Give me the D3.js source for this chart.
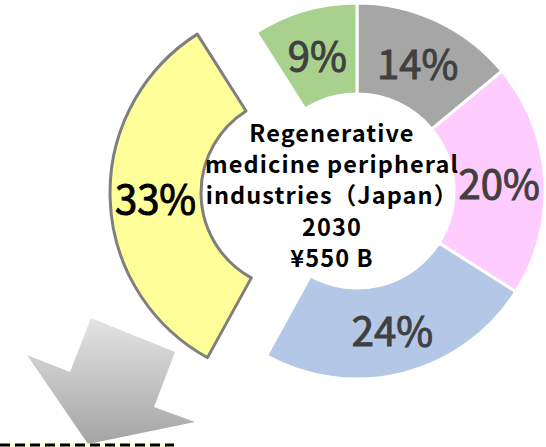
<!DOCTYPE html>
<html><head><meta charset="utf-8">
<script src="https://cdn.jsdelivr.net/npm/d3@7"></script>
<style>html,body{margin:0;padding:0;background:#fff;}svg{display:block;}</style>
</head><body>
<svg id="c" width="546" height="447"></svg>
<script>
const categories = ["Gray", "Pink", "Blue", "Yellow", "Green"];
const values = [14, 20, 24, 33, 9];
const labels = ["14%", "20%", "24%", "33%", "9%"];
const colors = ["#a6a6a6", "#ffccff", "#b4c7e7", "#ffff99", "#a9d18e"];
const labelColors = ["#404040", "#404040", "#404040", "#000000", "#404040"];
const exploded = [false, false, false, true, false];
const centerLines = ["Regenerative", "medicine peripheral", "industries（Japan）", "2030", "¥550 B"];

const svg = d3.select("#c");
const cx = 357, cy = 191, R = 188, r0 = 97, explode = 59;
const font = "'Noto Sans CJK JP', 'Noto Sans', sans-serif";

// arrow decoration with gradient
const defs = svg.append("defs");
const grad = defs.append("linearGradient").attr("id", "ag").attr("x1", 0).attr("y1", 0).attr("x2", 0).attr("y2", 1);
grad.append("stop").attr("offset", "0%").attr("stop-color", "#e4e4e4");
grad.append("stop").attr("offset", "100%").attr("stop-color", "#a4a4a4");
const arrowPts = [[91,318],[175,352],[154,407],[195,422],[88,444],[27,355],[70,372]];
svg.append("polygon").attr("points", arrowPts.map(p => p.join(",")).join(" ")).attr("fill", "url(#ag)");

// dashed line
svg.append("line").attr("x1", 0).attr("x2", 174).attr("y1", 445).attr("y2", 445)
  .attr("stroke", "#ffffc0").attr("stroke-width", 3);
svg.append("line").attr("x1", 0).attr("x2", 174).attr("y1", 445).attr("y2", 445)
  .attr("stroke", "#000").attr("stroke-width", 3).attr("stroke-dasharray", "10,5");

const pie = d3.pie().sort(null).value(d => d)(values);
const arc = d3.arc().innerRadius(r0).outerRadius(R);

const g = svg.append("g").attr("transform", `translate(${cx},${cy})`);
const slices = g.selectAll("g.s").data(pie).join("g").attr("class", "s")
  .attr("transform", (d, i) => {
    if (!exploded[i]) return null;
    const a = (d.startAngle + d.endAngle) / 2;
    return `translate(${explode * Math.sin(a)},${-explode * Math.cos(a)})`;
  });
slices.append("path").attr("d", arc)
  .attr("fill", (d, i) => colors[i])
  .attr("stroke", (d, i) => exploded[i] ? "#7f7f7f" : "#fff")
  .attr("stroke-width", 3)
  .attr("stroke-linejoin", "round");
slices.append("text")
  .attr("transform", d => `translate(${arc.centroid(d)})`)
  .attr("text-anchor", "middle").attr("dominant-baseline", "central")
  .attr("font-family", font).attr("font-size", 40).attr("font-weight", 400)
  .attr("fill", (d, i) => labelColors[i])
  .attr("stroke", (d, i) => labelColors[i]).attr("stroke-width", 1)
  .text((d, i) => labels[i]);

// center text
const ct = svg.append("text").attr("text-anchor", "middle")
  .attr("font-family", font).attr("font-size", 23.5).attr("font-weight", 700)
  .attr("letter-spacing", 1.1).attr("fill", "#000");
centerLines.forEach((t, i) => {
  ct.append("tspan").attr("x", 332).attr("y", 132 + i * 31.2).attr("dominant-baseline", "central").text(t);
});
</script>
</body></html>
